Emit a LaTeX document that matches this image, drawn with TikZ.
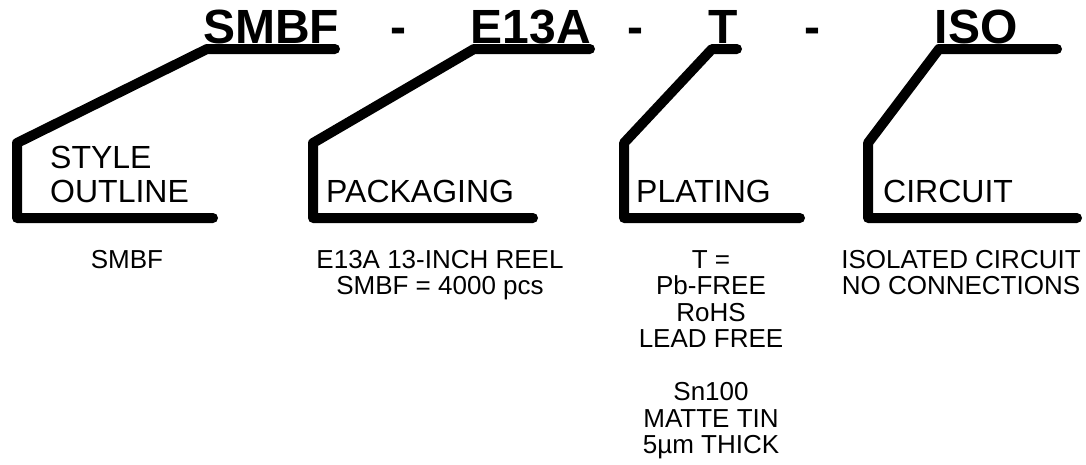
\documentclass[tikz,border=0pt]{standalone}
\usepackage{fontspec}
\setmainfont{Liberation Sans}
\begin{document}
\begin{tikzpicture}[x=1pt,y=-1pt,
  bracket/.style={line width=10pt,line cap=round,line join=round},
  code/.style={font=\fontsize{48}{48}\selectfont\bfseries,inner sep=0pt,anchor=base},
  lab/.style={font=\fontsize{32}{34}\selectfont,inner sep=0pt,anchor=base west},
  desc/.style={font=\fontsize{26}{26.5}\selectfont,inner sep=0pt,anchor=north,align=center}]
\useasboundingbox[fill=white] (0,0) rectangle (1086,464);

% part code
\node[code] (t1) at (271,43) {SMBF};
\node[code] (h1) at (398,43) {-};
\node[code] (t2) at (531,43) {E13A};
\node[code] (h2) at (635,43) {-};
\node[code] (t3) at (723.5,43) {T};
\node[code] (h3) at (812,43) {-};
\node[code] (t4) at (976,43) {ISO};

% brackets
\coordinate (a1) at (335,49);
\coordinate (a2) at (207,49);
\coordinate (a3) at (17,143);
\coordinate (a4) at (17,218);
\coordinate (a5) at (213,218);
\draw[bracket] (a1) -- (a2) -- (a3) -- (a4) -- (a5);

\coordinate (b1) at (590,49);
\coordinate (b2) at (474,49);
\coordinate (b3) at (313,143);
\coordinate (b4) at (313,218);
\coordinate (b5) at (533,218);
\draw[bracket] (b1) -- (b2) -- (b3) -- (b4) -- (b5);

\coordinate (c1) at (737,49);
\coordinate (c2) at (712,49);
\coordinate (c3) at (624,143);
\coordinate (c4) at (624,218);
\coordinate (c5) at (800,218);
\draw[bracket] (c1) -- (c2) -- (c3) -- (c4) -- (c5);

\coordinate (e1) at (1057,49);
\coordinate (e2) at (939,49);
\coordinate (e3) at (868,143);
\coordinate (e4) at (868,218);
\coordinate (e5) at (1077,218);
\draw[bracket] (e1) -- (e2) -- (e3) -- (e4) -- (e5);

% labels
\node[lab] (l1a) at (50,168) {STYLE};
\node[lab] (l1b) at (50,202) {OUTLINE};
\node[lab] (l2) at (326,202) {PACKAGING};
\node[lab] (l3) at (636,202) {PLATING};
\node[lab] (l4) at (883,202) {CIRCUIT};

% descriptions
\node[desc] (d1) at (127,250) {SMBF};
\node[desc] (d2) at (440,250) {E13A 13-INCH REEL\\SMBF = 4000 pcs};
\node[desc] (d3) at (711,250) {T =\\Pb-FREE\\RoHS\\LEAD FREE\\[26.5pt]Sn100\\MATTE TIN\\5µm THICK};
\node[desc] (d4) at (961,250) {ISOLATED CIRCUIT\\NO CONNECTIONS};
\end{tikzpicture}
\end{document}
